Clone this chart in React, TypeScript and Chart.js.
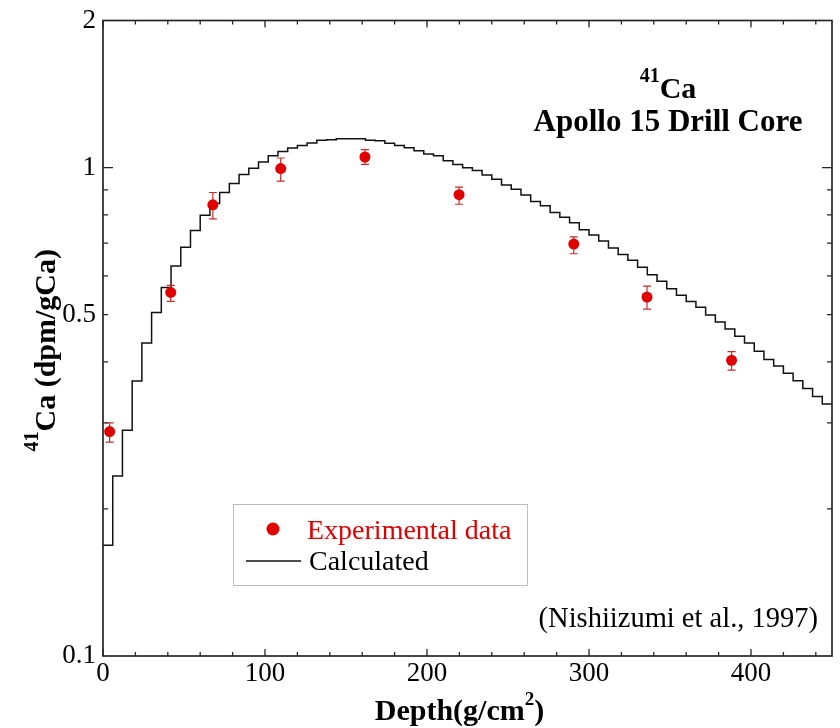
import React, { useEffect, useRef } from 'react';
import { Chart, registerables } from 'chart.js';

Chart.register(...registerables);

// ---- Experimental data (Nishiizumi et al., 1997) ----
const expDepth = [4.1, 41.8, 67.8, 109.7, 161.7, 219.8, 290.6, 335.8, 388.0];
const expValue = [0.288, 0.555, 0.839, 0.995, 1.051, 0.88, 0.697, 0.543, 0.403];
const expLow = [0.274, 0.532, 0.785, 0.938, 1.015, 0.841, 0.666, 0.513, 0.385];
const expHigh = [0.3, 0.574, 0.889, 1.046, 1.088, 0.912, 0.721, 0.572, 0.42];

// ---- Calculated profile (histogram, bin edges in g/cm2) ----
const binEdges = [
  0, 6, 12, 18, 24, 30, 36, 42, 48, 54, 60, 66, 72, 78, 84, 90, 96, 102, 108, 114,
  120, 126, 132, 138, 144, 150, 156, 162, 168, 174, 180, 186, 192, 198, 204, 210, 216, 222, 228, 234,
  240, 246, 252, 258, 264, 270, 276, 282, 288, 294, 300, 306, 312, 318, 324, 330, 336, 342, 348, 354,
  360, 366, 372, 378, 384, 390, 396, 402, 408, 414, 420, 426, 432, 438, 444, 450,
];
const calcValue = [
  0.1685, 0.2336, 0.29, 0.3655, 0.4375, 0.505, 0.568, 0.629, 0.687, 0.743,
  0.799, 0.844, 0.889, 0.928, 0.968, 0.997, 1.027, 1.057, 1.078, 1.097,
  1.11, 1.122, 1.137, 1.14, 1.145, 1.146, 1.145, 1.137, 1.134, 1.121,
  1.11, 1.098, 1.083, 1.066, 1.057, 1.033, 1.014, 0.9986, 0.986, 0.965,
  0.946, 0.921, 0.903, 0.879, 0.852, 0.835, 0.809, 0.791, 0.771, 0.746,
  0.728, 0.707, 0.684, 0.664, 0.646, 0.625, 0.603, 0.585, 0.565, 0.548,
  0.5315, 0.5176, 0.4993, 0.4826, 0.4671, 0.4515, 0.4375, 0.4208, 0.4047, 0.3924,
  0.379, 0.3659, 0.3529, 0.34, 0.328,
];

// ---- Axes ----
const xMin = 0;
const xMax = 450;
const yMin = 0.1;
const yMax = 2;
const xTickValues = [0, 100, 200, 300, 400];
const xMinorTickValues = [
  20, 40, 60, 80, 120, 140, 160, 180, 220, 240, 260, 280, 320, 340, 360, 380, 420, 440,
];
const yTickValues = [0.1, 0.5, 1, 2];
const yTickLabels = ['0.1', '0.5', '1', '2'];
const yMinorTickValues = [0.2, 0.3, 0.4, 0.5, 0.6, 0.7, 0.8, 0.9];

// ---- Texts ----
const titleIsotope = '41';
const titleElement = 'Ca';
const titleLine2 = 'Apollo 15 Drill Core';
const yTitleSup = '41';
const yTitleMain = 'Ca (dpm/gCa)';
const xTitleMain = 'Depth(g/cm';
const xTitleSup = '2';
const xTitleEnd = ')';
const legendExp = 'Experimental data';
const legendCalc = 'Calculated';
const sourceNote = '(Nishiizumi et al., 1997)';

const SERIF = '"Liberation Serif", "Times New Roman", serif';
const RED = '#e00000';
const ERR = '#c92a2a';

const decorPlugin = {
  id: 'decor',
  afterDatasetDraw(chart: any, args: any) {
    if (args.index !== 0) return;
    const { ctx, scales } = chart;
    const xs = scales.x;
    const ys = scales.y;
    ctx.save();
    ctx.strokeStyle = ERR;
    ctx.lineWidth = 1.2;
    for (let i = 0; i < expDepth.length; i++) {
      const px = xs.getPixelForValue(expDepth[i]);
      const pLo = ys.getPixelForValue(expLow[i]);
      const pHi = ys.getPixelForValue(expHigh[i]);
      ctx.beginPath();
      ctx.moveTo(px, pLo);
      ctx.lineTo(px, pHi);
      ctx.moveTo(px - 4, pLo);
      ctx.lineTo(px + 4, pLo);
      ctx.moveTo(px - 4, pHi);
      ctx.lineTo(px + 4, pHi);
      ctx.stroke();
    }
    ctx.restore();
  },
  afterDraw(chart: any) {
    const { ctx, chartArea, scales } = chart;
    const xs = scales.x;
    const ys = scales.y;
    const { left, right, top, bottom } = chartArea;
    ctx.save();
    // frame
    ctx.strokeStyle = '#262626';
    ctx.lineWidth = 1.7;
    ctx.strokeRect(left, top, right - left, bottom - top);
    // ticks (inward)
    ctx.lineWidth = 1.3;
    ctx.beginPath();
    const xTick = (v: number, len: number) => {
      const px = xs.getPixelForValue(v);
      ctx.moveTo(px, bottom);
      ctx.lineTo(px, bottom - len);
      ctx.moveTo(px, top);
      ctx.lineTo(px, top + len);
    };
    const yTick = (v: number, len: number) => {
      const py = ys.getPixelForValue(v);
      ctx.moveTo(left, py);
      ctx.lineTo(left + len, py);
      ctx.moveTo(right, py);
      ctx.lineTo(right - len, py);
    };
    xTickValues.forEach((v) => xTick(v, 7));
    xMinorTickValues.forEach((v) => xTick(v, 4));
    yTick(1, 10);
    yMinorTickValues.forEach((v) => yTick(v, 5));
    ctx.stroke();

    ctx.fillStyle = '#000';
    ctx.textBaseline = 'alphabetic';
    ctx.textAlign = 'left';

    // title (top right)
    const cx = 668;
    ctx.font = `bold 20px ${SERIF}`;
    const wIso = ctx.measureText(titleIsotope).width;
    ctx.font = `bold 30px ${SERIF}`;
    const wEl = ctx.measureText(titleElement).width;
    const sx = cx - (wIso + wEl) / 2;
    ctx.font = `bold 20px ${SERIF}`;
    ctx.fillText(titleIsotope, sx, 82);
    ctx.font = `bold 30px ${SERIF}`;
    ctx.fillText(titleElement, sx + wIso, 98);
    ctx.textAlign = 'center';
    ctx.font = `bold 31px ${SERIF}`;
    ctx.fillText(titleLine2, cx, 131);

    // source note
    ctx.textAlign = 'right';
    ctx.font = `28.5px ${SERIF}`;
    ctx.fillText(sourceNote, 818, 627);

    // x title
    ctx.textAlign = 'left';
    ctx.font = `bold 30px ${SERIF}`;
    const wx1 = ctx.measureText(xTitleMain).width;
    const wx3 = ctx.measureText(xTitleEnd).width;
    ctx.font = `bold 19px ${SERIF}`;
    const wx2 = ctx.measureText(xTitleSup).width;
    const xc = (left + right) / 2 - 8;
    const tx = xc - (wx1 + wx2 + wx3) / 2;
    ctx.font = `bold 30px ${SERIF}`;
    ctx.fillText(xTitleMain, tx, 720);
    ctx.font = `bold 19px ${SERIF}`;
    ctx.fillText(xTitleSup, tx + wx1, 705);
    ctx.font = `bold 30px ${SERIF}`;
    ctx.fillText(xTitleEnd, tx + wx1 + wx2, 720);

    // y title (rotated)
    ctx.font = `bold 20px ${SERIF}`;
    const wy1 = ctx.measureText(yTitleSup).width;
    ctx.font = `bold 30px ${SERIF}`;
    const wy2 = ctx.measureText(yTitleMain).width;
    const yc = (top + bottom) / 2 + 12;
    ctx.translate(55, yc + (wy1 + wy2) / 2);
    ctx.rotate(-Math.PI / 2);
    ctx.font = `bold 20px ${SERIF}`;
    ctx.fillText(yTitleSup, 0, -17);
    ctx.font = `bold 30px ${SERIF}`;
    ctx.fillText(yTitleMain, wy1, 0);
    ctx.setTransform(1, 0, 0, 1, 0, 0);

    // legend
    ctx.strokeStyle = '#bdbdbd';
    ctx.lineWidth = 1;
    ctx.strokeRect(233.5, 504.5, 294, 81);
    ctx.fillStyle = RED;
    ctx.beginPath();
    ctx.arc(273, 529, 6.5, 0, Math.PI * 2);
    ctx.fill();
    ctx.font = `28px ${SERIF}`;
    ctx.textAlign = 'left';
    ctx.fillText(legendExp, 307, 539);
    ctx.strokeStyle = '#111';
    ctx.lineWidth = 1.5;
    ctx.beginPath();
    ctx.moveTo(246, 561);
    ctx.lineTo(301, 561);
    ctx.stroke();
    ctx.fillStyle = '#000';
    ctx.fillText(legendCalc, 309, 570);
    ctx.restore();
  },
};

export default function App() {
  const canvasRef = useRef<HTMLCanvasElement | null>(null);

  useEffect(() => {
    document.body.style.margin = '0';
    const canvas = canvasRef.current;
    if (!canvas) return;

    const calcPoints = binEdges.map((x, i) => ({
      x,
      y: calcValue[Math.min(i, calcValue.length - 1)],
    }));
    const expPoints = expDepth.map((x, i) => ({ x, y: expValue[i] }));

    const chart = new Chart(canvas, {
      type: 'scatter',
      data: {
        datasets: [
          {
            type: 'line',
            label: legendCalc,
            data: calcPoints,
            stepped: 'before',
            showLine: true,
            borderColor: '#111',
            borderWidth: 1.5,
            pointRadius: 0,
            fill: false,
            order: 2,
          } as any,
          {
            type: 'scatter',
            label: legendExp,
            data: expPoints,
            pointRadius: 5.5,
            pointBackgroundColor: RED,
            pointBorderColor: RED,
            pointBorderWidth: 0,
            order: 1,
          } as any,
        ],
      },
      options: {
        responsive: false,
        animation: false,
        devicePixelRatio: 1,
        layout: { padding: { left: 0, right: 8, top: 15, bottom: 0 } },
        plugins: {
          legend: { display: false },
          tooltip: { enabled: false },
          title: { display: false },
        },
        scales: {
          x: {
            type: 'linear',
            min: xMin,
            max: xMax,
            grid: { display: false, drawTicks: false },
            border: { display: false },
            afterBuildTicks: (s: any) => {
              s.ticks = xTickValues.map((v) => ({ value: v }));
            },
            ticks: {
              color: '#000',
              font: { family: SERIF, size: 27, lineHeight: 1.2 },
              padding: 2,
              maxRotation: 0,
              autoSkip: false,
              callback: (v: any) => String(v),
            },
            afterFit: (s: any) => {
              s.height = 72;
            },
          },
          y: {
            type: 'logarithmic',
            min: yMin,
            max: yMax,
            grid: { display: false, drawTicks: false },
            border: { display: false },
            afterBuildTicks: (s: any) => {
              s.ticks = yTickValues.map((v) => ({ value: v }));
            },
            ticks: {
              color: '#000',
              font: { family: SERIF, size: 27, lineHeight: 1 },
              padding: 7,
              autoSkip: false,
              callback: (v: any) => {
                const i = yTickValues.indexOf(Number(v));
                return i >= 0 ? yTickLabels[i] : '';
              },
            },
            afterFit: (s: any) => {
              s.width = 103;
            },
          },
        },
      } as any,
      plugins: [decorPlugin],
    });

    return () => chart.destroy();
  }, []);

  return (
    <div style={{ width: 840, height: 728, background: '#fff' }}>
      <canvas ref={canvasRef} width={840} height={728} style={{ display: 'block' }} />
    </div>
  );
}
